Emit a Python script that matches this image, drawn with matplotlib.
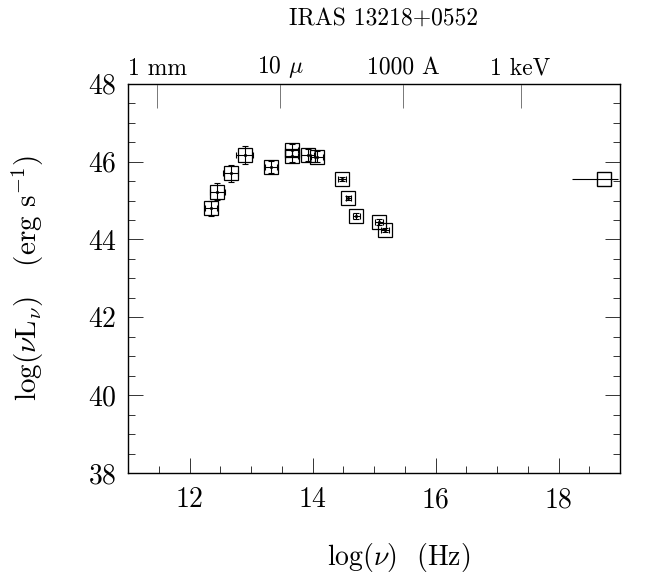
#!/usr/bin/env python

import numpy as np
import matplotlib
matplotlib.use('Agg')
import matplotlib.pyplot as plt
from matplotlib.ticker import MultipleLocator

plt.rcParams['font.family'] = ['cmr10', 'DejaVu Serif']
plt.rcParams['mathtext.fontset'] = 'cm'
plt.rcParams['axes.formatter.use_mathtext'] = True

# IR / optical points: log(nu), log(nu L_nu) and errors
log_nu = [12.35, 12.45, 12.67, 12.90, 13.32, 13.66, 13.66, 13.92, 14.07,
          14.48, 14.58, 14.71, 15.08, 15.18]
log_lum = [44.80, 45.23, 45.70, 46.17, 45.86, 46.30, 46.15, 46.17, 46.13,
           45.55, 45.06, 44.60, 44.45, 44.24]
x_err = [0.10, 0.12, 0.12, 0.14, 0.10, 0.10, 0.10, 0.10, 0.10,
         0.06, 0.04, 0.06, 0.06, 0.06]
y_err = [0.20, 0.22, 0.22, 0.22, 0.16, 0.16, 0.16, 0.16, 0.14,
         0.05, 0.05, 0.08, 0.08, 0.06]

# X-ray point
xray_nu = [18.73]
xray_lum = [45.56]
xray_xerr_lo = [0.52]
xray_xerr_hi = [0.24]

# top axis: wavelength / energy markers
top_ticks = [11.477, 13.477, 15.477, 17.383]
top_labels = ['1 mm', r'10 $\mu$', '1000 A', '1 keV']

fig = plt.figure(figsize=(6.58, 5.74), dpi=100)
ax = fig.add_axes([0.1945, 0.176, 0.748, 0.678])

ax.errorbar(log_nu, log_lum, xerr=x_err, yerr=y_err, fmt='none',
            ecolor='black', elinewidth=0.8, capsize=2, capthick=0.8)
ax.plot(log_nu, log_lum, 's', markersize=10, markerfacecolor='none',
        markeredgecolor='black', markeredgewidth=0.9)
ax.plot(log_nu, log_lum, '.', markersize=2.5, color='black')

ax.errorbar(xray_nu, xray_lum, xerr=[xray_xerr_lo, xray_xerr_hi], fmt='none',
            ecolor='black', elinewidth=0.8)
ax.plot(xray_nu, xray_lum, 's', markersize=10.5, markerfacecolor='none',
        markeredgecolor='black', markeredgewidth=1.0)

ax.set_xlim(11, 19)
ax.set_ylim(38, 48)
ax.xaxis.set_major_locator(MultipleLocator(2))
ax.xaxis.set_minor_locator(MultipleLocator(0.5))
ax.yaxis.set_major_locator(MultipleLocator(2))
ax.yaxis.set_minor_locator(MultipleLocator(0.5))
ax.tick_params(which='both', direction='in', right=True, top=False,
               labelsize=20, width=0.7, colors='#333333', labelcolor='black')
ax.tick_params(which='major', length=11)
ax.tick_params(which='minor', length=5)
ax.tick_params(axis='x', pad=10)
ax.tick_params(axis='y', pad=8)
for s in ax.spines.values():
    s.set_linewidth(1.0)
    s.set_color('#333333')

top = ax.twiny()
top.set_xlim(ax.get_xlim())
top.set_xticks(top_ticks)
top.set_xticklabels(top_labels)
top.tick_params(direction='in', length=17, width=0.7, colors='#777777',
                labelcolor='black', labelsize=17, pad=3)

ax.set_xlabel(r'log($\nu$)  (Hz)', fontsize=20)
ax.xaxis.set_label_coords(0.55, -0.175)
ax.set_ylabel(r'log($\nu$L$_\nu$)   (erg s$^{-1}$)', fontsize=21, labelpad=30)

fig.text(384 / 658, 1 - 19 / 574, 'IRAS 13218+0552', ha='center',
         va='center', fontsize=17)

fig.savefig('out.png', dpi=100)
plt.close(fig)
